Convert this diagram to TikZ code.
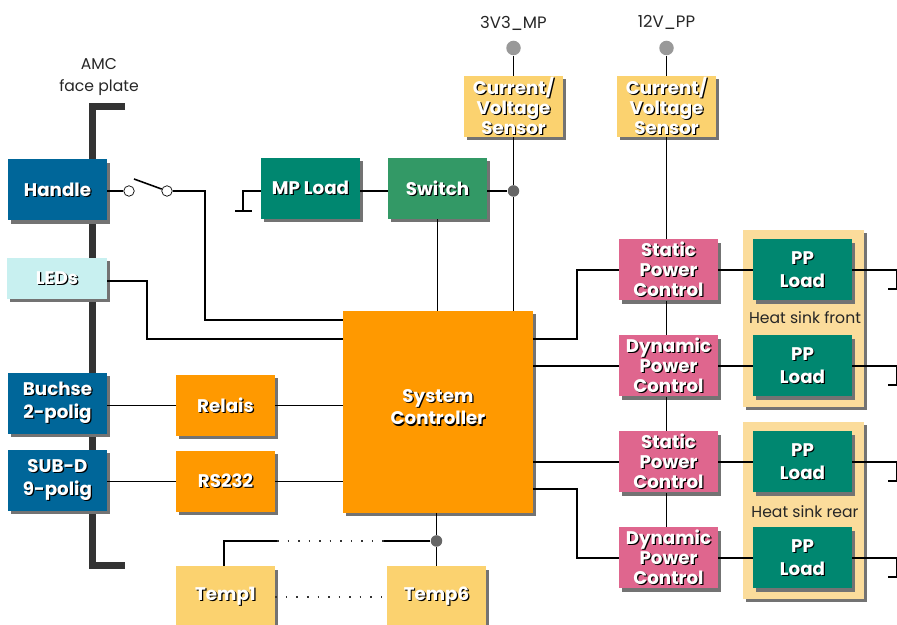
\documentclass[tikz,border=0pt]{standalone}
\usepackage{fontspec}
\setmainfont{Poppins}
\usepackage{xcolor}
\usetikzlibrary{positioning,calc,shadows}
\definecolor{handleblue}{HTML}{006699}
\definecolor{ledcyan}{HTML}{C8F0F0}
\definecolor{loadgreen}{HTML}{008770}
\definecolor{switchgreen}{HTML}{339966}
\definecolor{ctrlorange}{HTML}{FF9900}
\definecolor{sensoryellow}{HTML}{FBD26F}
\definecolor{powerpink}{HTML}{DF668E}
\definecolor{sinkyellow}{HTML}{FBDC9B}
\newcommand{\sh}[1]{\leavevmode\rlap{\color{black}\kern0.7pt\raisebox{-0.7pt}{#1}}#1}

\begin{document}
\begin{tikzpicture}[
    box/.style={rectangle, inner sep=0pt, minimum width=1.98cm, minimum height=1.22cm, align=center, text=white,
                font=\fontsize{10.4}{11.3}\selectfont\bfseries,
                drop shadow={shadow xshift=1.8pt, shadow yshift=-1.8pt, fill=black!55, opacity=1}},
    sink/.style={rectangle, inner sep=0pt, minimum width=2.42cm, minimum height=3.54cm, fill=sinkyellow,
                 drop shadow={shadow xshift=1.8pt, shadow yshift=-1.8pt, fill=black!55, opacity=1}},
    caption/.style={align=center, inner sep=0pt, font=\fontsize{8.9}{12.5}\selectfont, text=black!85},
    railtext/.style={caption, font=\fontsize{9.4}{12.5}\selectfont},
    terminal/.style={circle, draw=black, fill=white, inner sep=0pt, minimum size=0.21cm},
    railpoint/.style={circle, fill=black!40, inner sep=0pt, minimum size=0.29cm},
    junction/.style={circle, fill=black!60, inner sep=0pt, minimum size=0.23cm},
    wire/.style={line width=0.9pt, black},
    dots/.style={line width=0.9pt, black!80, dash pattern=on 0.9pt off 5.1pt},
    plate/.style={line width=0.14cm, black!80}
]
\useasboundingbox (0,0) rectangle (17.94,12.5);

% Face plate
\coordinate (plateTop) at (2.50,10.37);
\coordinate (plateUpper) at (1.84,10.37);
\coordinate (plateLower) at (1.84,1.18);
\coordinate (plateEnd) at (2.50,1.18);
\draw[plate] (plateTop) -- (plateUpper) -- (plateLower) -- (plateEnd);

% Front panel
\node[box, fill=handleblue] (handle) at (1.15,8.70) {\sh{Handle}};
\node[box, fill=ledcyan, minimum width=2cm, minimum height=0.82cm] (leds) at (1.14,6.93) {\sh{LEDs}};
\node[box, fill=handleblue] (buchse) at (1.15,4.43) {\sh{Buchse}\\[1.7pt]\sh{2-polig}};
\node[box, fill=handleblue] (subd) at (1.15,2.89) {\sh{SUB-D}\\[1.7pt]\sh{9-polig}};

% Controller and its neighbours
\node[box, fill=ctrlorange] (relais) at (4.51,4.39) {\sh{Relais}};
\node[box, fill=ctrlorange] (rs232) at (4.51,2.87) {\sh{RS232}};
\node[box, fill=ctrlorange, minimum width=3.8cm, minimum height=4.04cm] (sysctrl) at (8.76,4.26) {\sh{System}\\[1.7pt]\sh{Controller}\\[-5.6pt]\mbox{}};
\node[box, fill=loadgreen] (mpload) at (6.21,8.73) {\sh{MP Load}};
\node[box, fill=switchgreen] (switch) at (8.75,8.73) {\sh{Switch}};
\node[box, fill=sensoryellow] (tempA) at (4.51,0.56) {\sh{Temp1}};
\node[box, fill=sensoryellow] (tempB) at (8.73,0.56) {\sh{Temp6}};

% Supply rails
\node[railtext] (railMPtext) at (10.27,12.04) {3V3\_MP};
\node[railtext] (railPPtext) at (13.33,12.06) {12V\_PP};
\node[railpoint] (railMP) at (10.27,11.54) {};
\node[railpoint] (railPP) at (13.33,11.54) {};
\node[box, fill=sensoryellow] (sensorA) at (10.27,10.37) {\sh{Current/}\\\sh{Voltage}\\\sh{Sensor}};
\node[box, fill=sensoryellow] (sensorB) at (13.33,10.37) {\sh{Current/}\\\sh{Voltage}\\\sh{Sensor}};

% Power control
\node[box, fill=powerpink] (staticA) at (13.37,7.10) {\sh{Static}\\\sh{Power}\\\sh{Control}};
\node[box, fill=powerpink] (dynA) at (13.37,5.18) {\sh{Dynamic}\\\sh{Power}\\\sh{Control}};
\node[box, fill=powerpink] (staticB) at (13.37,3.26) {\sh{Static}\\\sh{Power}\\\sh{Control}};
\node[box, fill=powerpink] (dynB) at (13.37,1.34) {\sh{Dynamic}\\\sh{Power}\\\sh{Control}};

% Heat sinks
\node[sink] (sinkA) at (16.07,6.13) {};
\node[sink] (sinkB) at (16.07,2.29) {};
\node[box, fill=loadgreen] (ppA) at (16.05,7.10) {\sh{PP}\\[1.7pt]\sh{Load}};
\node[box, fill=loadgreen] (ppB) at (16.05,5.18) {\sh{PP}\\[1.7pt]\sh{Load}};
\node[box, fill=loadgreen] (ppC) at (16.05,3.26) {\sh{PP}\\[1.7pt]\sh{Load}};
\node[box, fill=loadgreen] (ppD) at (16.05,1.34) {\sh{PP}\\[1.7pt]\sh{Load}};
\node[caption] (sinkAtext) at (16.10,6.14) {Heat sink front};
\node[caption] (sinkBtext) at (16.10,2.26) {Heat sink rear};
\node[caption] (platetext) at (1.98,10.96) {AMC\\face plate};

% Switch and junctions
\node[terminal] (swIn) at (2.58,8.68) {};
\node[terminal] (swOut) at (3.34,8.68) {};
\node[junction] (jctA) at (10.27,8.68) {};
\node[junction] (jctB) at (8.73,1.68) {};
\coordinate (bladeTip) at (2.68,8.92);
\coordinate (handleBend) at (4.10,6.10);
\coordinate (ledsBend) at (2.94,5.72);
\coordinate (gndTop) at (4.86,8.68);
\coordinate (gndL) at (4.70,8.28);
\coordinate (gndR) at (5.04,8.28);
\coordinate (bendA) at (11.54,5.72);
\coordinate (bendB) at (11.54,2.72);
\coordinate (dotsL) at (5.54,1.68);
\coordinate (dotsR) at (7.68,1.68);

% Left side wires
\draw[wire] (handle.east |- swIn) -- (swIn);
\draw[wire] (bladeTip) -- (swOut);
\draw[wire] (swOut) -| (handleBend) -- (sysctrl.west |- handleBend);
\draw[wire] ([yshift=-0.05cm]leds.east) -| (ledsBend) -- (sysctrl.west |- ledsBend);
\draw[wire] (buchse.east |- relais.west) -- (relais.west);
\draw[wire] (relais.east) -- (sysctrl.west |- relais.east);
\draw[wire] (subd.east |- rs232.west) -- (rs232.west);
\draw[wire] (rs232.east) -- (sysctrl.west |- rs232.east);

% Top wires
\draw[wire] (mpload.west |- gndTop) -- (gndTop) -- (gndTop |- gndL);
\draw[wire] (gndL) -- (gndR);
\draw[wire] (mpload.east |- jctA) -- (switch.west |- jctA);
\draw[wire] (switch.east |- jctA) -- (jctA);
\draw[wire] (switch.south) -- (switch.south |- sysctrl.north);
\draw[wire] (railMP) -- (sensorA.north);
\draw[wire] (sensorA.south) -- (jctA) -- (jctA |- sysctrl.north);

% Power wires
\draw[wire] (railPP) -- (sensorB.north);
\draw[wire] (sensorB.south) -- (sensorB.south |- staticA.north);
\draw[wire] (sensorB.south |- staticA.south) -- (sensorB.south |- dynA.north);
\draw[wire] (sensorB.south |- dynA.south) -- (sensorB.south |- staticB.north);
\draw[wire] (sensorB.south |- staticB.south) -- (sensorB.south |- dynB.north);
\draw[wire] (sysctrl.east |- bendA) -- (bendA) |- (staticA.west);
\draw[wire] (sysctrl.east |- dynA.west) -- (dynA.west);
\draw[wire] (sysctrl.east |- staticB.west) -- (staticB.west);
\draw[wire] (sysctrl.east |- bendB) -- (bendB) |- (dynB.west);
\draw[wire] (staticA.east) -- (ppA.west);
\draw[wire] (dynA.east) -- (ppB.west);
\draw[wire] (staticB.east) -- (ppC.west);
\draw[wire] (dynB.east) -- (ppD.west);

% Load returns
\foreach \pp in {ppA,ppB,ppC,ppD}
    \draw[wire] (\pp.east) -- ++(0.88,0) -- ++(0,-0.38) -- ++(-0.17,0);

% Temperature sensors
\draw[wire] (jctB |- sysctrl.south) -- (jctB) -- (tempB.north);
\draw[wire] (jctB) -- (dotsR);
\draw[wire] (tempA.north -| 4.48,0) |- (dotsL);
\draw[dots] (dotsL) -- (dotsR);
\draw[dots] (tempA.east) -- (tempB.west);

\end{tikzpicture}
\end{document}
